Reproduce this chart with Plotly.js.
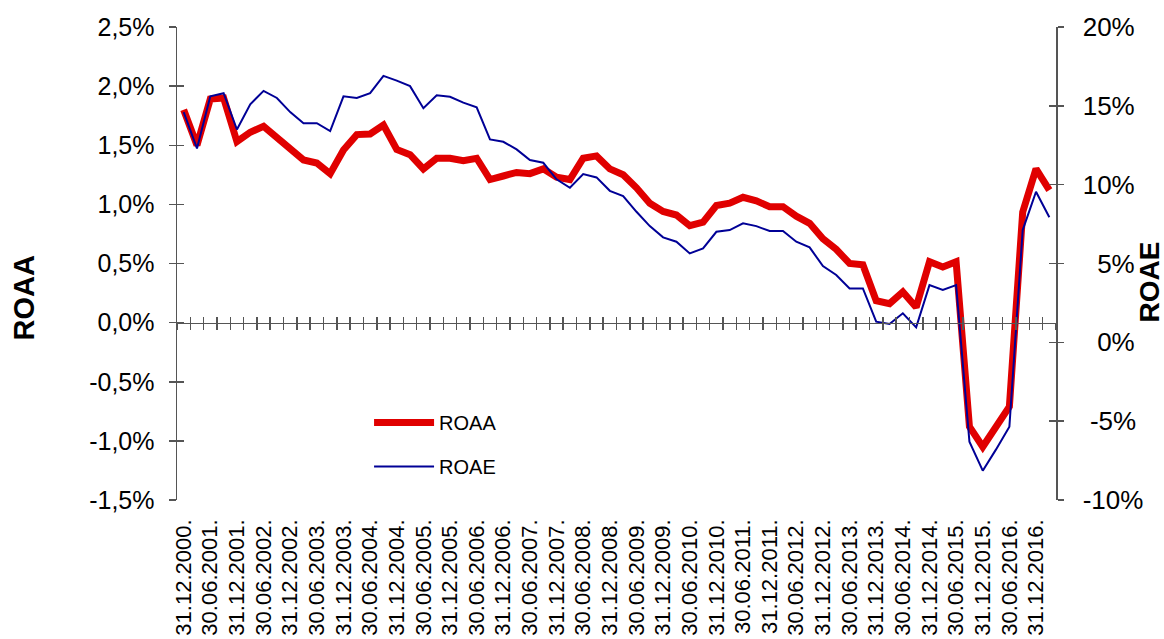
<!DOCTYPE html>
<html><head><meta charset="utf-8">
<script src="https://cdn.plot.ly/plotly-3.0.1.min.js"></script>
<style>html,body{margin:0;padding:0;background:#fff}#chart{width:1164px;height:639px}</style>
</head><body><div id="chart"></div>
<script>
const quarters = [
 '31.12.2000.','31.03.2001.','30.06.2001.','30.09.2001.','31.12.2001.','31.03.2002.','30.06.2002.','30.09.2002.',
 '31.12.2002.','31.03.2003.','30.06.2003.','30.09.2003.','31.12.2003.','31.03.2004.','30.06.2004.','30.09.2004.',
 '31.12.2004.','31.03.2005.','30.06.2005.','30.09.2005.','31.12.2005.','31.03.2006.','30.06.2006.','30.09.2006.',
 '31.12.2006.','31.03.2007.','30.06.2007.','30.09.2007.','31.12.2007.','31.03.2008.','30.06.2008.','30.09.2008.',
 '31.12.2008.','31.03.2009.','30.06.2009.','30.09.2009.','31.12.2009.','31.03.2010.','30.06.2010.','30.09.2010.',
 '31.12.2010.','31.03.2011.','30.06.2011.','30.09.2011.','31.12.2011.','31.03.2012.','30.06.2012.','30.09.2012.',
 '31.12.2012.','31.03.2013.','30.06.2013.','30.09.2013.','31.12.2013.','31.03.2014.','30.06.2014.','30.09.2014.',
 '31.12.2014.','31.03.2015.','30.06.2015.','30.09.2015.','31.12.2015.','31.03.2016.','30.06.2016.','30.09.2016.',
 '31.12.2016.','31.03.2017.'
];
const tickLabels = [
 '31.12.2000.','30.06.2001.','31.12.2001.','30.06.2002.','31.12.2002.','30.06.2003.','31.12.2003.','30.06.2004.',
 '31.12.2004.','30.06.2005.','31.12.2005.','30.06.2006.','31.12.2006.','30.06.2007.','31.12.2007.','30.06.2008.',
 '31.12.2008.','30.06.2009.','31.12.2009.','30.06.2010.','31.12.2010.','30.06.2011.','31.12.2011.','30.06.2012.',
 '31.12.2012.','30.06.2013.','31.12.2013.','30.06.2014.','31.12.2014.','30.06.2015.','31.12.2015.','30.06.2016.',
 '31.12.2016.'
];
const roaa = [
 1.80,1.50,1.89,1.90,1.53,1.61,1.66,1.57,1.47,1.375,1.35,1.26,1.46,1.59,1.595,1.67,
 1.465,1.42,1.30,1.39,1.39,1.37,1.39,1.21,1.24,1.27,1.26,1.30,1.23,1.21,1.39,1.41,
 1.30,1.25,1.14,1.01,0.94,0.91,0.82,0.85,0.99,1.01,1.06,1.03,0.98,0.98,0.90,0.84,
 0.71,0.62,0.50,0.49,0.185,0.16,0.26,0.13,0.515,0.47,0.515,-0.88,-1.05,-0.88,-0.71,0.935,
 1.30,1.12
];
const roae = [
 14.6,12.3,15.6,15.8,13.5,15.1,15.95,15.5,14.6,13.9,13.9,13.4,15.6,15.5,15.8,16.9,
 16.6,16.25,14.85,15.67,15.57,15.2,14.9,12.87,12.72,12.24,11.56,11.39,10.34,9.80,10.67,10.46,
 9.61,9.28,8.28,7.37,6.66,6.38,5.64,5.96,7.01,7.12,7.55,7.37,7.06,7.06,6.38,6.02,
 4.84,4.27,3.42,3.42,1.31,1.16,1.84,0.95,3.63,3.32,3.63,-6.30,-8.14,-6.79,-5.35,7.12,
 9.55,7.93
];
const leftTickVals = [-1.5,-1,-0.5,0,0.5,1,1.5,2,2.5];
const leftTickText = ['-1,5%','-1,0%','-0,5%','0,0%','0,5%','1,0%','1,5%','2,0%','2,5%'];
const rightTickVals = [-10,-5,0,5,10,15,20];
const rightTickText = ['-10%','\u2008-5%','\u20070%','\u20075%','10%','15%','20%'];

const AX = '#555555';
const FONT = 'Liberation Sans, Arial, sans-serif';

const hidden = {mode: 'lines', line: {width: 0, color: 'rgba(0,0,0,0)'}, showlegend: false, hoverinfo: 'skip'};

const traces = [
 {x: quarters, y: roaa, name: 'ROAA', type: 'scatter', mode: 'lines',
  line: {color: '#e00000', width: 7}, xaxis: 'x', yaxis: 'y', legendgroup: 'a'},
 {x: quarters, y: roae, name: 'ROAE', type: 'scatter', mode: 'lines',
  line: {color: '#000096', width: 2}, xaxis: 'x', yaxis: 'y2', legendgroup: 'b'},
 Object.assign({x: quarters, y: roaa, type: 'scatter', xaxis: 'x2', yaxis: 'y3'}, hidden),
 Object.assign({x: quarters, y: roae, type: 'scatter', xaxis: 'x3', yaxis: 'y4'}, hidden)
];

const nCat = quarters.length;
const xr = [-0.5, nCat - 0.5];

const zeroAxis = {type: 'category', overlaying: 'x', anchor: 'free', position: 0.375, range: xr,
  tickmode: 'linear', tick0: 0, dtick: 1, tickson: 'boundaries', ticklen: 6, tickwidth: 1.5, tickcolor: AX,
  showticklabels: false, showgrid: false, zeroline: false};

const layout = {
 width: 1164, height: 639,
 margin: {l: 177, r: 108, t: 27, b: 139, pad: 0},
 paper_bgcolor: '#fff', plot_bgcolor: '#fff',
 font: {family: FONT, color: '#000'},
 showlegend: true,
 legend: {x: 0.2185, y: 0.205, xanchor: 'left', yanchor: 'top', font: {size: 20, family: FONT},
          bgcolor: 'rgba(0,0,0,0)', tracegroupgap: 15, itemwidth: 60},
 xaxis: {type: 'category', range: xr, tickvals: tickLabels, ticktext: tickLabels, tickangle: -90,
         ticks: '', showline: false, showgrid: false, zeroline: false,
         tickfont: {size: 22, family: FONT}, ticklabelstandoff: 14},
 xaxis2: Object.assign({}, zeroAxis, {ticks: 'outside', showline: true, linecolor: AX, linewidth: 1.5}),
 xaxis3: Object.assign({}, zeroAxis, {ticks: 'inside', showline: false}),
 yaxis: {range: [-1.5, 2.5], tickvals: leftTickVals, ticktext: leftTickText,
         ticks: 'outside', ticklen: 7, tickwidth: 1.5, tickcolor: AX,
         showline: true, linecolor: AX, linewidth: 1.5, showgrid: false, zeroline: false,
         tickfont: {size: 25, family: FONT}, ticklabelstandoff: 9},
 yaxis2: {overlaying: 'y', side: 'right', anchor: 'x', range: [-10, 20],
          tickvals: rightTickVals, ticktext: rightTickText,
          ticks: 'outside', ticklen: 6, tickwidth: 1.5, tickcolor: AX,
          showline: true, linecolor: AX, linewidth: 1.5, showgrid: false, zeroline: false,
          tickfont: {size: 26, family: FONT}, ticklabelstandoff: 14},
 yaxis3: {overlaying: 'y', side: 'left', anchor: 'x', range: [-1.5, 2.5], tickvals: leftTickVals,
          ticks: 'inside', ticklen: 7, tickwidth: 1.5, tickcolor: AX,
          showline: false, showticklabels: false, showgrid: false, zeroline: false},
 yaxis4: {overlaying: 'y', side: 'right', anchor: 'x', range: [-10, 20], tickvals: rightTickVals,
          ticks: 'inside', ticklen: 7, tickwidth: 1.5, tickcolor: AX,
          showline: false, showticklabels: false, showgrid: false, zeroline: false},
 annotations: [
  {text: '<b>ROAA</b>', xref: 'paper', yref: 'paper', x: -0.1735, y: 0.427, textangle: -90,
   xanchor: 'center', yanchor: 'middle',
   showarrow: false, font: {size: 29, family: FONT, color: '#000'}},
  {text: '<b>ROAE</b>', xref: 'paper', yref: 'paper', x: 1.1065, y: 0.461, textangle: -90,
   xanchor: 'center', yanchor: 'middle',
   showarrow: false, font: {size: 28, family: FONT, color: '#000'}}
 ]
};

Plotly.newPlot('chart', traces, layout, {staticPlot: true, displayModeBar: false});
</script>
</body></html>
